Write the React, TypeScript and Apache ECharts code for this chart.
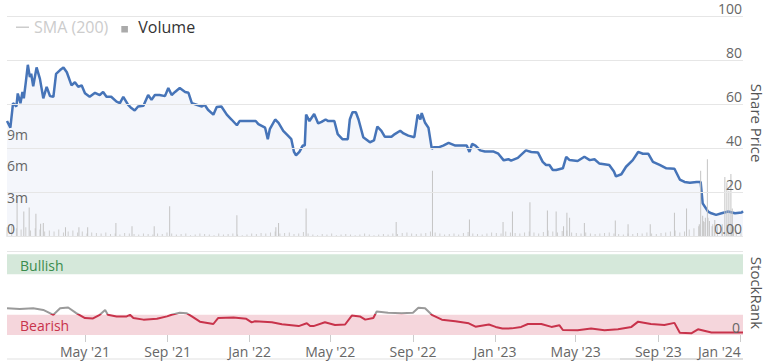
import React, { useEffect, useRef } from 'react';
import * as echarts from 'echarts';

const FONT = "'Open Sans', sans-serif";

const rangeStart = '2021-01-05';
const rangeEnd = '2024-01-05';

const xTickDates = ['2021-05-01', '2021-09-01', '2022-01-01', '2022-05-01', '2022-09-01', '2023-01-01', '2023-05-01', '2023-09-01', '2024-01-01'];
const monthNames = ['Jan', 'Feb', 'Mar', 'Apr', 'May', 'Jun', 'Jul', 'Aug', 'Sep', 'Oct', 'Nov', 'Dec'];

const pricePoints: [string, number][] = [
  ['2021-01-05', 52.4], ['2021-01-10', 49.4], ['2021-01-14', 60.5], ['2021-01-19', 59], ['2021-01-21', 64.9], ['2021-01-25', 60.5],
  ['2021-01-28', 65.6], ['2021-01-30', 62.7], ['2021-02-02', 70], ['2021-02-05', 77.9], ['2021-02-08', 72.3], ['2021-02-10', 73.8],
  ['2021-02-13', 68.2], ['2021-02-18', 76.7], ['2021-02-23', 71.5], ['2021-02-28', 62.7], ['2021-03-05', 67.9], ['2021-03-10', 63.7],
  ['2021-03-15', 63.4], ['2021-03-19', 73.8], ['2021-03-25', 75.5], ['2021-03-30', 76.7], ['2021-04-04', 74.5], ['2021-04-11', 68.6],
  ['2021-04-16', 70], ['2021-04-21', 67.9], ['2021-04-26', 68.6], ['2021-05-01', 65], ['2021-05-08', 63.4], ['2021-05-16', 65.2],
  ['2021-05-23', 64.2], ['2021-05-28', 65.6], ['2021-06-02', 63.4], ['2021-06-09', 63.4], ['2021-06-17', 61.2], ['2021-06-22', 60.5],
  ['2021-06-27', 63.4], ['2021-07-04', 59.8], ['2021-07-09', 58.3], ['2021-07-14', 57.2], ['2021-07-19', 59], ['2021-07-27', 59.3],
  ['2021-08-03', 64.2], ['2021-08-08', 62], ['2021-08-13', 64.2], ['2021-08-20', 64.2], ['2021-08-28', 63.7], ['2021-09-02', 67.4],
  ['2021-09-07', 64.2], ['2021-09-12', 65.6], ['2021-09-19', 67.4], ['2021-09-27', 65.6], ['2021-10-02', 65.2], ['2021-10-07', 60.5],
  ['2021-10-14', 59.8], ['2021-10-22', 59], ['2021-10-26', 59.8], ['2021-10-31', 57.5], ['2021-11-08', 55.3], ['2021-11-13', 58.8],
  ['2021-11-20', 59], ['2021-11-28', 55.3], ['2021-12-05', 53.1], ['2021-12-13', 50.5], ['2021-12-17', 52.4], ['2021-12-27', 52.4],
  ['2022-01-10', 52.4], ['2022-01-14', 51], ['2022-01-24', 49.4], ['2022-01-28', 44.2], ['2022-01-31', 48.7], ['2022-02-08', 53.1],
  ['2022-02-13', 51.6], ['2022-02-20', 48], ['2022-02-27', 45.8], ['2022-03-04', 44.2], ['2022-03-08', 38.4], ['2022-03-11', 36.9],
  ['2022-03-16', 38.4], ['2022-03-21', 41.3], ['2022-03-24', 41.3], ['2022-03-26', 55.3], ['2022-03-31', 52.4], ['2022-04-07', 55.6],
  ['2022-04-13', 51.3], ['2022-04-18', 52], ['2022-04-24', 53.1], ['2022-04-28', 52.4], ['2022-05-07', 52.4], ['2022-05-12', 46.5],
  ['2022-05-19', 44.2], ['2022-05-27', 44.2], ['2022-05-30', 53.1], ['2022-06-03', 56.4], ['2022-06-08', 56.4], ['2022-06-12', 53.1],
  ['2022-06-19', 45.1], ['2022-06-29', 42.8], ['2022-07-05', 43.6], ['2022-07-10', 49.9], ['2022-07-16', 48], ['2022-07-21', 45.3],
  ['2022-07-31', 45.3], ['2022-08-05', 46.5], ['2022-08-13', 48], ['2022-08-18', 46.8], ['2022-08-25', 45.8], ['2022-09-03', 45.1],
  ['2022-09-08', 55.3], ['2022-09-12', 53.1], ['2022-09-14', 56], ['2022-09-19', 51.6], ['2022-09-24', 49.4], ['2022-09-29', 39.8],
  ['2022-10-02', 40.5], ['2022-10-09', 40.5], ['2022-10-16', 41.3], ['2022-10-24', 42.5], ['2022-11-03', 41.3], ['2022-11-13', 41.3],
  ['2022-11-20', 41.3], ['2022-11-24', 38.4], ['2022-11-28', 42], ['2022-12-03', 41.3], ['2022-12-10', 39.1], ['2022-12-17', 38.6],
  ['2022-12-30', 38.6], ['2023-01-06', 37.6], ['2023-01-14', 34.6], ['2023-01-21', 35.1], ['2023-01-25', 34.5], ['2023-02-04', 35.7],
  ['2023-02-16', 39.1], ['2023-02-24', 38.4], ['2023-03-06', 38.1], ['2023-03-13', 33.9], ['2023-03-18', 32.5], ['2023-03-23', 32.5],
  ['2023-03-28', 30.2], ['2023-04-02', 30.2], ['2023-04-12', 31], ['2023-04-17', 36.2], ['2023-04-22', 34.7], ['2023-05-04', 34.3],
  ['2023-05-14', 36.2], ['2023-05-22', 34.7], ['2023-05-29', 35.1], ['2023-06-05', 33.2], ['2023-06-20', 32.5], ['2023-06-27', 29.5],
  ['2023-06-30', 27.3], ['2023-07-08', 28.3], ['2023-07-15', 31.7], ['2023-07-25', 34.7], ['2023-08-02', 38.4], ['2023-08-09', 37.6],
  ['2023-08-17', 37.6], ['2023-08-24', 33.9], ['2023-09-03', 32.5], ['2023-09-13', 31], ['2023-09-25', 30.8], ['2023-10-03', 25.9],
  ['2023-10-10', 24.8], ['2023-10-18', 24.4], ['2023-10-28', 24.8], ['2023-11-03', 24.8], ['2023-11-06', 15.1], ['2023-11-14', 11.4],
  ['2023-11-19', 10.6], ['2023-11-26', 9.9], ['2023-12-04', 10.6], ['2023-12-14', 11.4], ['2023-12-24', 10.6], ['2024-01-03', 11],
  ['2024-01-05', 11.5],
];

const rankPoints: [string, number][] = [
  ['2021-01-05', 33], ['2021-01-24', 32], ['2021-02-13', 33], ['2021-02-28', 31], ['2021-03-15', 25], ['2021-03-25', 33],
  ['2021-04-06', 34], ['2021-04-18', 27], ['2021-05-01', 21], ['2021-05-13', 20.5], ['2021-05-23', 25], ['2021-05-31', 31],
  ['2021-06-04', 25], ['2021-06-17', 23], ['2021-07-02', 23], ['2021-07-07', 25], ['2021-07-12', 21], ['2021-07-27', 19],
  ['2021-08-16', 20], ['2021-08-31', 23], ['2021-09-07', 25], ['2021-09-19', 27.6], ['2021-09-29', 27], ['2021-10-07', 23],
  ['2021-10-19', 16.5], ['2021-11-08', 13.6], ['2021-11-15', 21], ['2021-12-08', 21.5], ['2021-12-27', 20], ['2022-01-04', 15.6],
  ['2022-01-09', 17], ['2022-02-03', 15.8], ['2022-02-18', 13.3], ['2022-03-15', 11], ['2022-03-27', 14.5], ['2022-04-01', 11],
  ['2022-04-06', 11], ['2022-04-23', 15.7], ['2022-05-08', 12.4], ['2022-05-23', 13], ['2022-06-02', 24], ['2022-06-14', 23],
  ['2022-06-22', 19], ['2022-07-04', 21], ['2022-07-09', 29], ['2022-07-26', 27.6], ['2022-08-15', 27], ['2022-09-01', 27.6],
  ['2022-09-09', 33.8], ['2022-09-19', 33], ['2022-09-29', 25], ['2022-10-14', 19], ['2022-11-03', 17], ['2022-11-23', 14.5],
  ['2022-12-03', 10.3], ['2022-12-23', 13], ['2023-01-02', 10], ['2023-01-12', 8], ['2023-01-26', 8.2], ['2023-02-09', 10],
  ['2023-02-19', 13.6], ['2023-03-11', 13.6], ['2023-03-26', 10], ['2023-04-07', 12], ['2023-04-12', 6.2], ['2023-05-04', 6],
  ['2023-05-24', 8], ['2023-06-13', 6], ['2023-07-03', 7], ['2023-07-23', 10], ['2023-08-02', 16.5], ['2023-08-21', 13.6],
  ['2023-09-10', 12.4], ['2023-09-25', 15], ['2023-10-03', 2.9], ['2023-10-20', 2.1], ['2023-10-30', 7], ['2023-11-19', 3],
  ['2023-12-14', 3], ['2024-01-05', 3],
];

// weekly volume (millions), one per week from rangeStart
const volumeWeekly: number[] = [
  0.9, 1.1, 0.8, 0.7, 0.9, 0.6, 0.8, 0.7, 0.5, 0.6, 0.5, 0.7, 0.4, 0.5, 0.6, 0.4,
  0.5, 0.3, 0.4, 0.35, 0.3, 0.4, 0.25, 0.3, 0.2, 0.35, 0.3, 0.25, 0.2, 0.3, 0.25,
  0.2, 0.3, 0.25, 0.4, 0.3, 0.2, 0.25, 0.3, 0.15, 0.2, 0.3, 0.25, 0.2, 0.15, 0.3, 0.2, 0.25, 0.3, 0.2, 0.15,
  0.2, 0.3, 0.25, 0.35, 0.3, 0.4, 0.5, 0.3, 0.35, 0.4, 0.25, 0.3, 0.45, 0.3, 0.2, 0.15, 0.25, 0.2, 0.3, 0.15, 0.2, 0.25, 0.2, 0.15, 0.2, 0.3, 0.2, 0.15, 0.2, 0.25,
  0.2, 0.3, 0.25, 0.35, 0.4, 0.3, 0.25, 0.3, 0.35, 0.5, 0.4, 0.3, 0.2, 0.25, 0.3, 0.2, 0.35, 0.45, 0.3, 0.25, 0.2, 0.3, 0.4, 0.35, 0.3, 0.5, 0.4, 0.35, 0.3, 0.4,
  0.5, 0.4, 0.3, 0.45, 0.6, 0.5, 0.4, 0.55, 0.6, 0.4, 0.35, 0.3, 0.4, 0.3, 0.25, 0.3, 0.35, 0.4, 0.3, 0.25, 0.2, 0.3, 0.25, 0.35, 0.3, 0.4, 0.3, 0.25, 0.35, 0.4,
  0.5, 0.6, 0.4, 0.5, 0.7, 0.8, 1.0, 1.5, 1.8, 1.2, 1.0, 0.9, 1.1, 1.0, 0.6, 0.5,
];

// high-volume days (millions)
const volumeSpikes: [string, number][] = [
  ['2021-01-20', 3.7], ['2021-01-30', 2.4], ['2021-02-07', 2.8], ['2021-02-17', 2.2], ['2021-02-24', 1.25], ['2021-02-28', 1.3],
  ['2021-04-02', 0.9], ['2021-04-22', 0.9], ['2021-05-05', 0.9], ['2021-06-16', 1.3], ['2021-07-10', 1.0], ['2021-08-12', 1.0],
  ['2021-09-04', 2.9], ['2021-12-13', 2.06], ['2022-02-09', 0.9], ['2022-02-13', 1.3], ['2022-03-26', 2.7], ['2022-08-07', 1.4],
  ['2022-09-30', 6.3], ['2022-11-24', 1.65], ['2023-01-13', 1.4], ['2023-01-27', 2.4], ['2023-02-22', 3.3], ['2023-03-20', 2.5],
  ['2023-04-02', 2.4], ['2023-04-13', 1.0], ['2023-04-18', 2.3], ['2023-04-22', 1.8], ['2023-05-14', 1.3], ['2023-06-29', 1.55],
  ['2023-07-18', 1.2], ['2023-08-20', 1.2], ['2023-09-25', 2.3], ['2023-10-13', 2.7], ['2023-11-01', 1.2], ['2023-11-03', 6.3],
  ['2023-11-06', 2.0], ['2023-11-08', 1.4], ['2023-11-10', 1.8], ['2023-11-13', 7.4], ['2023-11-16', 1.5], ['2023-11-20', 1.0],
  ['2023-11-24', 1.6], ['2023-12-05', 1.2], ['2023-12-09', 5.7], ['2023-12-12', 5.2], ['2023-12-15', 4.4], ['2023-12-18', 6.0],
  ['2023-12-20', 2.7], ['2023-12-22', 1.0],
];

const priceTicks = [0, 20, 40, 60, 80, 100];
const volumeTickLabels = ['0', '3m', '6m', '9m'];
const bullishBand = [75, 100];
const bearishBand = [0, 25];
const rankNeutralThreshold = 26;

const DAY = 86400000;
function toTs(s: string): number {
  const [y, m, d] = s.split('-').map(Number);
  return Date.UTC(y, m - 1, d);
}
function tsToStr(t: number): string {
  const dt = new Date(t);
  const mm = String(dt.getUTCMonth() + 1).padStart(2, '0');
  const dd = String(dt.getUTCDate()).padStart(2, '0');
  return `${dt.getUTCFullYear()}-${mm}-${dd}`;
}

export default function App() {
  const ref = useRef<HTMLDivElement>(null);

  useEffect(() => {
    document.body.style.margin = '0';
    const chart = echarts.init(ref.current!, null, { renderer: 'svg' });
    const minTs = toTs(rangeStart);
    const maxTs = toTs(rangeEnd);
    const dayCats: string[] = [];
    for (let t = minTs; t <= maxTs; t += DAY) dayCats.push(tsToStr(t));
    const tickSet = new Set(xTickDates);
    const lastTick = xTickDates[xTickDates.length - 1];
    const weekMs = 7 * DAY;
    const weeklyData = volumeWeekly.map((v, i) => [minTs + i * weekMs, v * 1e6]);
    const spikeData = volumeSpikes.map(([d, v]) => [toTs(d), v * 1e6]);
    const priceData = pricePoints.map(([d, v]) => [toTs(d), v]);
    const rankData = rankPoints.map(([d, v]) => [toTs(d), v]);
    const rankVals = rankPoints.map((p) => p[1]);
    const rMax = Math.max(...rankVals);
    const rMin = Math.min(...rankVals);
    const cut = Math.min(1, Math.max(0, (rMax - rankNeutralThreshold) / (rMax - rMin)));
    const rankColor = new echarts.graphic.LinearGradient(0, 0, 0, 1, [
      { offset: 0, color: '#9a9a9a' },
      { offset: cut, color: '#9a9a9a' },
      { offset: cut, color: '#c8334b' },
      { offset: 1, color: '#c8334b' },
    ]);
    const fmtDate = (s: string) => {
      const [y, m] = s.split('-').map(Number);
      const txt = `${monthNames[m - 1]} '${String(y).slice(2)}`;
      return s === lastTick ? `{last|${txt}}` : txt;
    };
    const volMaxTick = 3e6 * (volumeTickLabels.length - 1);

    const option: any = {
      animation: false,
      backgroundColor: '#ffffff',
      textStyle: { fontFamily: FONT },
      legend: {
        left: 16,
        top: 19,
        padding: 0,
        itemWidth: 13,
        itemHeight: 13,
        itemGap: 12,
        inactiveColor: '#cccccc',
        textStyle: { fontSize: 16, color: '#333333', fontFamily: FONT },
        selected: { 'SMA (200)': false },
        data: [
          { name: 'SMA (200)', icon: 'path://M0,6h13v1.4h-13z M0,0h0.01v0.01h-0.01z M13,13h0.01v0.01h-0.01z' },
          { name: 'Volume', icon: 'path://M1,5.5h6.6v6.6h-6.6z M0,0h0.01v0.01h-0.01z M13,13h0.01v0.01h-0.01z', itemStyle: { color: '#aaaaaa' } },
        ],
      },
      grid: [
        { left: 7, right: 23, top: 10.7, height: 226 },
        { left: 7, right: 23, top: 251.7, height: 83.3 },
      ],
      xAxis: [
        { type: 'value', gridIndex: 0, position: 'bottom', min: minTs, max: maxTs, show: false, splitLine: { show: false } },
        { type: 'value', gridIndex: 1, position: 'top', min: minTs, max: maxTs, show: false, splitLine: { show: false } },
        {
          type: 'category',
          gridIndex: 1,
          position: 'bottom',
          data: dayCats,
          boundaryGap: false,
          axisLine: { show: false },
          splitLine: { show: false },
          axisTick: {
            show: true,
            length: 7,
            lineStyle: { color: '#cccccc' },
            interval: (_i: number, v: string) => tickSet.has(v),
          },
          axisLabel: {
            interval: (_i: number, v: string) => tickSet.has(v),
            formatter: fmtDate,
            fontSize: 14,
            color: '#666666',
            fontFamily: FONT,
            margin: 9,
            rich: {
              last: { fontSize: 14, color: '#666666', fontFamily: FONT, padding: [0, 42, 0, 0] },
            },
          },
        },
      ],
      yAxis: [
        {
          type: 'value',
          gridIndex: 0,
          position: 'right',
          z: 10,
          min: priceTicks[0],
          max: priceTicks[priceTicks.length - 1],
          interval: priceTicks[1] - priceTicks[0],
          axisLine: { show: false },
          axisTick: { show: false },
          splitLine: { lineStyle: { color: '#e6e6e6' } },
          axisLabel: {
            inside: true,
            margin: 1,
            verticalAlign: 'bottom',
            lineHeight: 16,
            fontSize: 14,
            color: '#666666',
            fontFamily: FONT,
            formatter: (v: number) => (v === 0 ? '0.00' : String(v)),
          },
        },
        {
          type: 'value',
          gridIndex: 0,
          position: 'left',
          z: 10,
          min: 0,
          max: 21.1e6,
          interval: 3e6,
          axisLine: { show: false },
          axisTick: { show: false },
          splitLine: { show: false },
          axisLabel: {
            inside: true,
            margin: 0,
            verticalAlign: 'bottom',
            lineHeight: 16,
            fontSize: 14,
            color: '#666666',
            fontFamily: FONT,
            formatter: (v: number) => (v <= volMaxTick ? volumeTickLabels[Math.round(v / 3e6)] : ''),
          },
        },
        {
          type: 'value',
          gridIndex: 1,
          position: 'right',
          z: 10,
          min: 0,
          max: 103,
          interval: 103,
          axisLine: { show: false },
          axisTick: { show: false },
          splitLine: { show: false },
          axisLabel: {
            inside: true,
            margin: 3,
            verticalAlign: 'bottom',
            lineHeight: 16,
            fontSize: 14,
            color: '#666666',
            fontFamily: FONT,
            formatter: (v: number) => (v === 0 ? '0' : ''),
          },
        },
      ],
      series: [
        {
          name: 'SMA (200)',
          type: 'line',
          xAxisIndex: 0,
          yAxisIndex: 0,
          data: [],
          showSymbol: false,
          itemStyle: { color: '#999999' },
        },
        {
          name: 'Volume',
          type: 'bar',
          xAxisIndex: 0,
          yAxisIndex: 1,
          data: weeklyData,
          barWidth: 1,
          itemStyle: { color: '#cfcfcf' },
          z: 2,
        },
        {
          name: 'Volume',
          type: 'bar',
          xAxisIndex: 0,
          yAxisIndex: 1,
          data: spikeData,
          barWidth: 1,
          barGap: '-100%',
          itemStyle: { color: '#c4c4c4' },
          z: 2,
        },
        {
          name: 'Share Price',
          type: 'line',
          xAxisIndex: 0,
          yAxisIndex: 0,
          data: priceData,
          showSymbol: false,
          lineStyle: { width: 2.5, color: '#4674b8' },
          itemStyle: { color: '#4674b8' },
          areaStyle: { color: '#f4f6fb', opacity: 1 },
          z: 1,
        },
        {
          name: 'StockRank',
          type: 'line',
          xAxisIndex: 1,
          yAxisIndex: 2,
          data: rankData,
          showSymbol: false,
          lineStyle: { width: 2, color: rankColor },
          itemStyle: { color: '#c8334b' },
          z: 3,
        },
        {
          name: 'bands',
          type: 'line',
          xAxisIndex: 1,
          yAxisIndex: 2,
          data: [],
          silent: true,
          markLine: {
            silent: true,
            symbol: 'none',
            label: { show: false },
            lineStyle: { color: '#e6e6e6', type: 'solid', width: 1 },
            data: [{ yAxis: 103 }],
          },
          markArea: {
            silent: true,
            data: [
              [
                {
                  name: 'Bullish',
                  yAxis: bullishBand[0],
                  itemStyle: { color: '#d5e8da' },
                  label: { show: true, position: 'insideLeft', distance: 13, color: '#3a8c4c', fontSize: 14, fontFamily: FONT, offset: [0, 1] },
                },
                { yAxis: bullishBand[1] },
              ],
              [
                {
                  name: 'Bearish',
                  yAxis: bearishBand[0],
                  itemStyle: { color: '#f5d6dc' },
                  label: { show: true, position: 'insideLeft', distance: 13, color: '#c8334b', fontSize: 14, fontFamily: FONT, offset: [0, 1] },
                },
                { yAxis: bearishBand[1] },
              ],
            ],
          },
        },
      ],
      graphic: [
        {
          type: 'text',
          x: 757,
          y: 123,
          rotation: -Math.PI / 2,
          style: { text: 'Share Price', align: 'center', verticalAlign: 'middle', fill: '#555555', fontSize: 15, fontFamily: FONT },
        },
        {
          type: 'text',
          x: 757,
          y: 293,
          rotation: -Math.PI / 2,
          style: { text: 'StockRank', align: 'center', verticalAlign: 'middle', fill: '#555555', fontSize: 15, fontFamily: FONT },
        },
        { type: 'rect', shape: { x: 7, y: 358, width: 736, height: 2 }, style: { fill: '#f0f0f0' } },
        { type: 'rect', shape: { x: 620, y: 358, width: 123, height: 2 }, style: { fill: '#dddddd' } },
      ],
    };

    chart.setOption(option);
    return () => chart.dispose();
  }, []);

  return <div ref={ref} style={{ width: 766, height: 361 }} />;
}
